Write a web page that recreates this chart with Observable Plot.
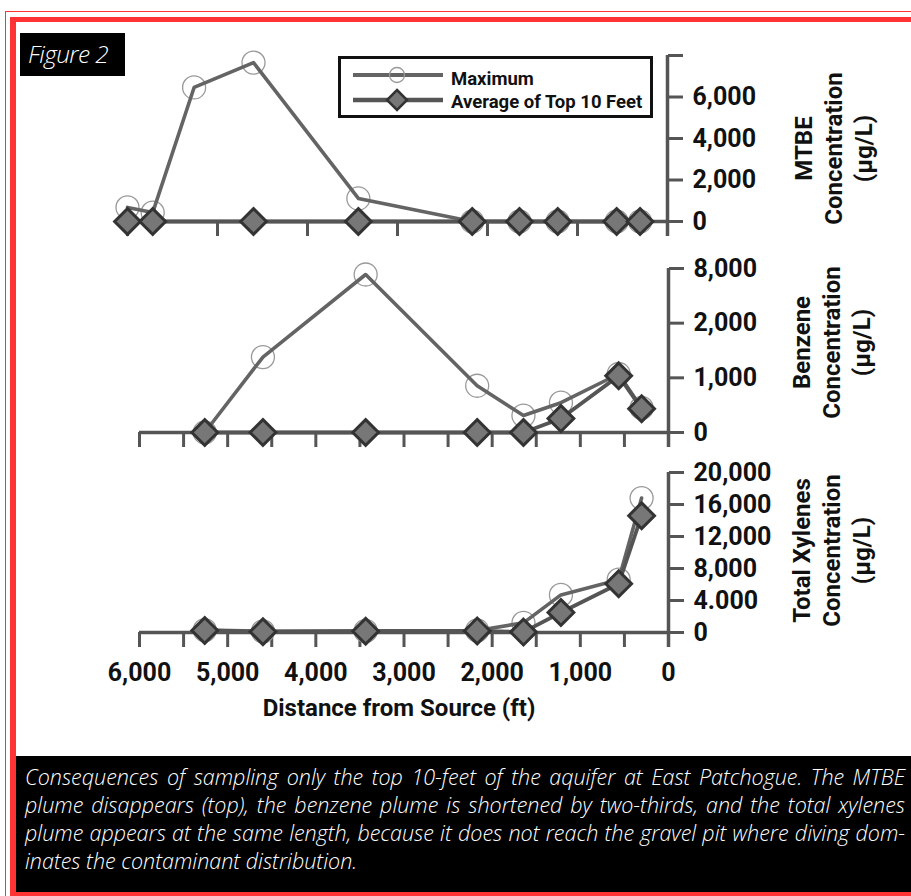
<!DOCTYPE html>
<html>
<head>
<meta charset="utf-8">
<script src="https://cdn.jsdelivr.net/npm/d3@7"></script>
<script src="https://cdn.jsdelivr.net/npm/@observablehq/plot@0.6"></script>
<style>
  html, body { margin: 0; padding: 0; background: #fff; overflow: hidden; }
  #root { position: relative; width: 911px; height: 896px; overflow: hidden; background: #fff; font-family: Roboto, "Liberation Sans", Arial, sans-serif; }
  .frame-thin { position: absolute; left: 5px; top: 11px; width: 1200px; height: 1200px; border: 1.5px solid #ff3333; box-sizing: border-box; }
  .frame-thick { position: absolute; left: 10px; top: 17px; width: 1200px; height: 879px; border-style: solid; border-color: #ff3333; border-width: 5px 0 4px 6px; box-sizing: border-box; background: #fff; }
  .fig { position: absolute; left: 20px; top: 33px; width: 105px; height: 43px; background: #000; color: #fff; font-family: "Open Sans", sans-serif; font-style: italic; font-weight: 300; font-size: 24.5px; letter-spacing: -0.6px; line-height: 42px; padding-left: 8px; box-sizing: border-box; white-space: nowrap; }
  .caption { position: absolute; left: 16px; top: 756px; width: 1000px; height: 136px; background: #000; color: #fff; padding: 7px 0 0 9px; box-sizing: border-box; font-family: "Open Sans", sans-serif; font-style: italic; font-weight: 300; font-size: 21.5px; line-height: 28px; }
  .caption div { width: 880px; white-space: nowrap; text-align: justify; text-align-last: justify; }
  .caption div.last { text-align-last: left; }
  .panel { position: absolute; left: 0; }
  .legend { position: absolute; left: 338px; top: 56px; }
</style>
</head>
<body>
<div id="root">
  <div class="frame-thin"></div>
  <div class="frame-thick"></div>
  <div class="fig" id="fig"></div>
  <div class="caption" id="caption"></div>
</div>
<script>
// ---------------- data ----------------
const figureLabel = "Figure 2";
const seriesNames = ["Maximum", "Average of Top 10 Feet"];
const distanceFt = [6000, 5720, 5260, 4600, 3435, 2170, 1645, 1220, 565, 305];

const mtbeMax = [680, 430, 6460, 7660, 1110, 0, 0, 0, 0, 0];
const mtbeAvg = [0, 0, null, 0, 0, 0, 0, 0, 0, 0];
const benzeneMax = [null, null, 0, 1380, 2890, 855, 310, 545, 1070, 450];
const benzeneAvg = [null, null, 0, 0, 0, 0, 0, 255, 1036, 436];
const xylenesMax = [null, null, 300, 150, 200, 250, 1200, 4700, 6600, 16800];
const xylenesAvg = [null, null, 250, 100, 150, 200, 50, 2500, 6100, 14600];

const mtbeTicks = [0, 2000, 4000, 6000, 8000];
const mtbeTickLabels = ["0", "2,000", "4,000", "6,000", ""];
const benzeneTicks = [0, 1000, 2000, 3000];
const benzeneTickLabels = ["0", "1,000", "2,000", "8,000"];
const xylenesTicks = [0, 4000, 8000, 12000, 16000, 20000];
const xylenesTickLabels = ["0", "4.000", "8,000", "12,000", "16,000", "20,000"];

const distanceTicksMajor = [6000, 5000, 4000, 3000, 2000, 1000, 0];
const distanceTickLabels = ["6,000", "5,000", "4,000", "3,000", "2,000", "1,000", "0"];
const distanceTicksMinor = [6000, 5500, 5000, 4500, 4000, 3500, 3000, 2500, 2000, 1500, 1000, 500, 0];

const yTitles = ["MTBE\nConcentration\n(µg/L)", "Benzene\nConcentration\n(µg/L)", "Total Xylenes\nConcentration\n(µg/L)"];
const xTitle = "Distance from Source (ft)";

const captionLines = [
  "Consequences of sampling only the top 10-feet of the aquifer at East Patchogue. The MTBE",
  "plume disappears (top), the benzene plume is shortened by two-thirds, and the total xylenes",
  "plume appears at the same length, because it does not reach the gravel pit where diving dom-",
  "inates the contaminant distribution."
];

// ---------------- styles ----------------
const AXIS = "#555";
const MAXLINE = "#646464";
const FONT = "Roboto, 'Liberation Sans', Arial, sans-serif";

function panel(cfg) {
  const rows = distanceFt.map((d, i) => ({d, max: cfg.max[i], avg: cfg.avg[i]}));
  const maxRows = rows.filter(r => r.max != null);
  const avgRows = rows.filter(r => r.avg != null);
  const marks = [
    Plot.ruleY([0], {stroke: AXIS, strokeWidth: 3.5}),
    Plot.axisX({ticks: cfg.xTicks, tickSize: 15, tickFormat: () => "", stroke: AXIS, strokeWidth: 3, label: null}),
    Plot.ruleX([0], {stroke: AXIS, strokeWidth: 3.5, insetBottom: -15}),
    Plot.axisY({anchor: "right", ticks: cfg.yTicks, tickSize: 15, tickFormat: () => "", stroke: AXIS, strokeWidth: 3, label: null}),
    Plot.axisY({anchor: "right", ticks: cfg.yTicks, tickSize: 0, tickPadding: 25,
      tickFormat: v => cfg.yLabels[cfg.yTicks.indexOf(v)], fill: "#111", fontSize: 25, fontWeight: "bold", label: null}),
    Plot.dot(maxRows, {x: "d", y: "max", r: 11.5, stroke: "#999", strokeWidth: 1.3, fill: "none"}),
    Plot.line(maxRows, {x: "d", y: "max", stroke: MAXLINE, strokeWidth: 3.6}),
    Plot.line(avgRows, {x: "d", y: "avg", stroke: AXIS, strokeWidth: 3.8}),
    Plot.dot(avgRows, {x: "d", y: "avg", r: 11.6, symbol: "diamond2", stroke: "#333", strokeWidth: 3, fill: "#777"}),
    Plot.text([cfg.title], {text: d => d, frameAnchor: "right", dx: cfg.titleDx, dy: cfg.titleDy, rotate: -90,
      textAnchor: "middle", lineAnchor: "middle", lineHeight: 1.25, fontSize: 24, fontWeight: "bold", fill: "#111"})
  ];
  if (cfg.xLabels) {
    marks.push(Plot.axisX({ticks: distanceTicksMajor, tickSize: 0, tickPadding: 31,
      tickFormat: v => distanceTickLabels[distanceTicksMajor.indexOf(v)], fill: "#111", fontSize: 25, fontWeight: "bold", label: null}));
    marks.push(Plot.text([xTitle], {text: d => d, frameAnchor: "bottom", dx: -5, dy: 76, lineAnchor: "middle",
      fontSize: 24, fontWeight: "bold", fill: "#111"}));
  }
  const svg = Plot.plot({
    width: 911,
    height: cfg.height,
    marginTop: cfg.mt, marginBottom: cfg.mb, marginLeft: cfg.ml, marginRight: cfg.mr,
    x: {domain: [6000, 0]},
    y: {domain: cfg.yDomain},
    style: {background: "transparent", overflow: "visible", fontFamily: FONT},
    marks
  });
  svg.classList.add("panel");
  svg.style.position = "absolute";
  svg.style.top = cfg.top + "px";
  svg.style.left = "0px";
  return svg;
}

const root = document.getElementById("root");
root.appendChild(panel({top: 40, height: 200, mt: 15, mb: 19, ml: 127, mr: 244, yDomain: [0, 8000],
  max: mtbeMax, avg: mtbeAvg, yTicks: mtbeTicks, yLabels: mtbeTickLabels, xTicks: distanceTicksMajor,
  title: yTitles[0], titleDx: 165, titleDy: 10}));
root.appendChild(panel({top: 245, height: 205, mt: 23, mb: 18, ml: 139, mr: 243, yDomain: [0, 3000],
  max: benzeneMax, avg: benzeneAvg, yTicks: benzeneTicks, yLabels: benzeneTickLabels, xTicks: distanceTicksMinor,
  title: yTitles[1], titleDx: 162, titleDy: -8}));
root.appendChild(panel({top: 450, height: 280, mt: 22, mb: 98, ml: 139, mr: 243, yDomain: [0, 20000],
  max: xylenesMax, avg: xylenesAvg, yTicks: xylenesTicks, yLabels: xylenesTickLabels, xTicks: distanceTicksMinor,
  title: yTitles[2], titleDx: 162, titleDy: -2, xLabels: true}));

// legend
const lg = d3.create("svg").attr("class", "legend").attr("width", 316).attr("height", 63);
lg.append("rect").attr("x", 1.5).attr("y", 1.5).attr("width", 312).attr("height", 59)
  .attr("fill", "#fff").attr("stroke", "#111").attr("stroke-width", 3);
seriesNames.forEach((name, i) => {
  const y = i === 0 ? 19 : 44;
  lg.append("line").attr("x1", 15).attr("x2", 105).attr("y1", y).attr("y2", y)
    .attr("stroke", i === 0 ? MAXLINE : AXIS).attr("stroke-width", i === 0 ? 4 : 4.5);
  if (i === 0) {
    lg.append("circle").attr("cx", 59).attr("cy", y).attr("r", 7.5).attr("fill", "none").attr("stroke", "#999").attr("stroke-width", 1.3);
  } else {
    lg.append("path").attr("transform", `translate(59,${y})`).attr("d", d3.symbol(d3.symbolDiamond2, 255)())
      .attr("fill", "#777").attr("stroke", "#333").attr("stroke-width", 2.5);
  }
  lg.append("text").attr("x", 113).attr("y", i === 0 ? 29 : 52).text(name)
    .attr("font-family", FONT).attr("font-weight", "bold").attr("font-size", 18.5).attr("fill", "#111");
});
lg.node().style.position = "absolute";
root.appendChild(lg.node());

document.getElementById("fig").textContent = figureLabel;
const cap = document.getElementById("caption");
captionLines.forEach((t, i) => {
  const div = document.createElement("div");
  div.textContent = t;
  if (i === captionLines.length - 1) div.className = "last";
  cap.appendChild(div);
});
</script>
</body>
</html>
